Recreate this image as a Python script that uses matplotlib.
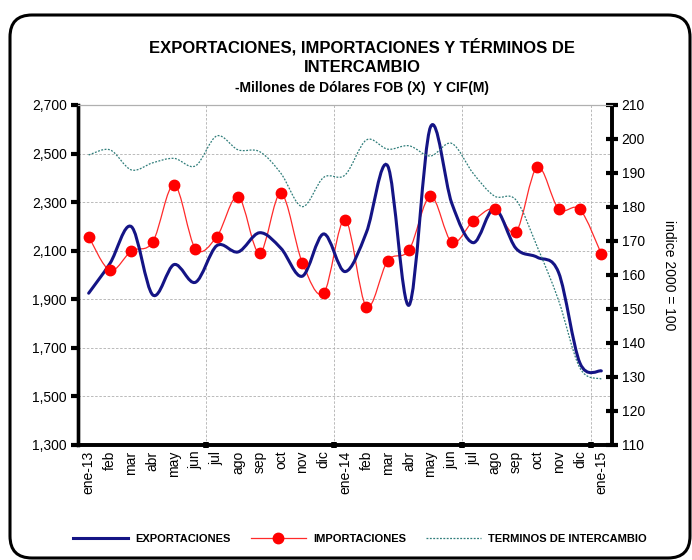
import numpy as np
import matplotlib
matplotlib.use('Agg')
import matplotlib.pyplot as plt
from matplotlib.path import Path
from matplotlib.patches import PathPatch, FancyBboxPatch
from matplotlib.lines import Line2D
from matplotlib.ticker import FuncFormatter

plt.rcParams['font.family'] = ['Liberation Sans', 'DejaVu Sans']

#--- datos
meses = ['ene-13', 'feb', 'mar', 'abr', 'may', 'jun', 'jul', 'ago', 'sep', 'oct', 'nov', 'dic',
         'ene-14', 'feb', 'mar', 'abr', 'may', 'jun', 'jul', 'ago', 'sep', 'oct', 'nov', 'dic',
         'ene-15']
exportaciones = [1925, 2048, 2199, 1918, 2043, 1970, 2121, 2095, 2174, 2110, 1995, 2169,
                 2014, 2175, 2449, 1876, 2609, 2295, 2133, 2274, 2110, 2073, 2010, 1637,
                 1605]
importaciones = [2158, 2019, 2099, 2136, 2372, 2108, 2158, 2323, 2090, 2336, 2051, 1925,
                 2228, 1870, 2059, 2103, 2325, 2135, 2222, 2272, 2177, 2444, 2272, 2270,
                 2087]
terminos = [195.3, 196.8, 190.9, 193.0, 194.3, 192.1, 200.9, 196.8, 196.3, 189.9, 180.1, 188.7,
            189.4, 199.7, 197.0, 198.0, 195.0, 198.7, 189.9, 183.2, 182.1, 168.3, 152.5, 132.6,
            129.4]


def smooth_path(xs, ys):
    #--- curva suavizada tipo Excel (Bezier por Catmull-Rom)
    p = np.column_stack([xs, ys]).astype(float)
    ext = np.vstack([p[0], p, p[-1]])
    verts = [p[0]]
    codes = [Path.MOVETO]
    for i in range(len(p) - 1):
        p0, p1, p2, p3 = ext[i], ext[i + 1], ext[i + 2], ext[i + 3]
        verts += [p1 + (p2 - p0) / 6, p2 - (p3 - p1) / 6, p2]
        codes += [Path.CURVE4] * 3
    return Path(verts, codes)


fig = plt.figure(figsize=(6.92, 5.6), dpi=100)
ax = fig.add_axes([0.1127, 0.2054, 0.7717, 0.6071])
ax2 = ax.twinx()

x = np.arange(len(meses))

ax.add_patch(PathPatch(smooth_path(x, exportaciones), fill=False, edgecolor='#141485',
                       linewidth=2.2, zorder=4, capstyle='round'))
ax.add_patch(PathPatch(smooth_path(x, importaciones), fill=False, edgecolor='#ff2a2a',
                       linewidth=0.9, zorder=3))
ax.plot(x, importaciones, linestyle='none', marker='o', markersize=7.5, color='#ff0000',
        zorder=5)
ax2.add_patch(PathPatch(smooth_path(x, terminos), fill=False, edgecolor='#2f7d7a',
                        linewidth=0.9, linestyle=(0, (1.5, 1.2)), zorder=2))

ax.set_xlim(-0.5, len(meses) - 0.5)
ax.set_ylim(1300, 2700)
ax.set_yticks(np.arange(1300, 2701, 200))
ax.yaxis.set_major_formatter(FuncFormatter(lambda v, p: f'{int(v):,}'))
ax2.set_ylim(110, 210)
ax2.set_yticks(np.arange(110, 211, 10))

ax.set_xticks(x)
ax.set_xticklabels(meses, rotation=90, fontsize=10)
ax.set_xticks(np.arange(5.5, len(meses), 6), minor=True)
ax.tick_params(axis='x', which='major', length=0, pad=4)
ax.tick_params(axis='x', which='minor', length=4, width=4, color='black', direction='inout')
ax.tick_params(axis='y', length=5, width=3, color='black', labelsize=10, pad=3)
ax2.tick_params(axis='y', length=8, width=3, color='black', labelsize=10, pad=3,
                direction='inout')

ax.grid(True, axis='y', which='major', linestyle=(0, (3, 2)), color='#b0b0b0', linewidth=0.6)
ax.grid(True, axis='x', which='minor', linestyle=(0, (3, 2)), color='#b0b0b0', linewidth=0.6)
ax.set_axisbelow(True)

for a in (ax, ax2):
    a.spines['top'].set_color('#b0b0b0')
    a.spines['top'].set_linewidth(0.8)
    a.spines['left'].set_linewidth(2.4)
    a.spines['bottom'].set_linewidth(2.6)
    a.spines['right'].set_linewidth(2.6)

ax2.set_ylabel('indice 2000 = 100', rotation=270, fontsize=10, labelpad=22)

fig.text(0.523, 0.916, 'EXPORTACIONES, IMPORTACIONES Y TÉRMINOS DE', ha='center', va='center',
         fontsize=12, fontweight='bold')
fig.text(0.523, 0.879, 'INTERCAMBIO', ha='center', va='center', fontsize=12, fontweight='bold')
fig.text(0.523, 0.843, '-Millones de Dólares FOB (X)  Y CIF(M)', ha='center', va='center',
         fontsize=10, fontweight='bold')

handles = [
    Line2D([], [], color='#141485', linewidth=2.2),
    Line2D([], [], color='#ff2a2a', linewidth=0.9, marker='o', markersize=7.5,
           markerfacecolor='#ff0000', markeredgecolor='#ff0000'),
    Line2D([], [], color='#2f7d7a', linewidth=0.9, linestyle=(0, (1.5, 1.2))),
]
fig.legend(handles, ['EXPORTACIONES', 'IMPORTACIONES', 'TERMINOS DE INTERCAMBIO'],
           loc='center', bbox_to_anchor=(0.52, 0.038), ncol=3, frameon=False,
           prop={'size': 8, 'weight': 'bold'}, handlelength=5.0, columnspacing=1.8,
           handletextpad=0.6)

#--- marco redondeado
border = FancyBboxPatch((0.10, 0.02), 6.80, 5.43, boxstyle='round,pad=0,rounding_size=0.22',
                        transform=fig.dpi_scale_trans, fill=False, edgecolor='black',
                        linewidth=2.2, clip_on=False)
fig.patches.append(border)

fig.savefig('out.png', dpi=100)
